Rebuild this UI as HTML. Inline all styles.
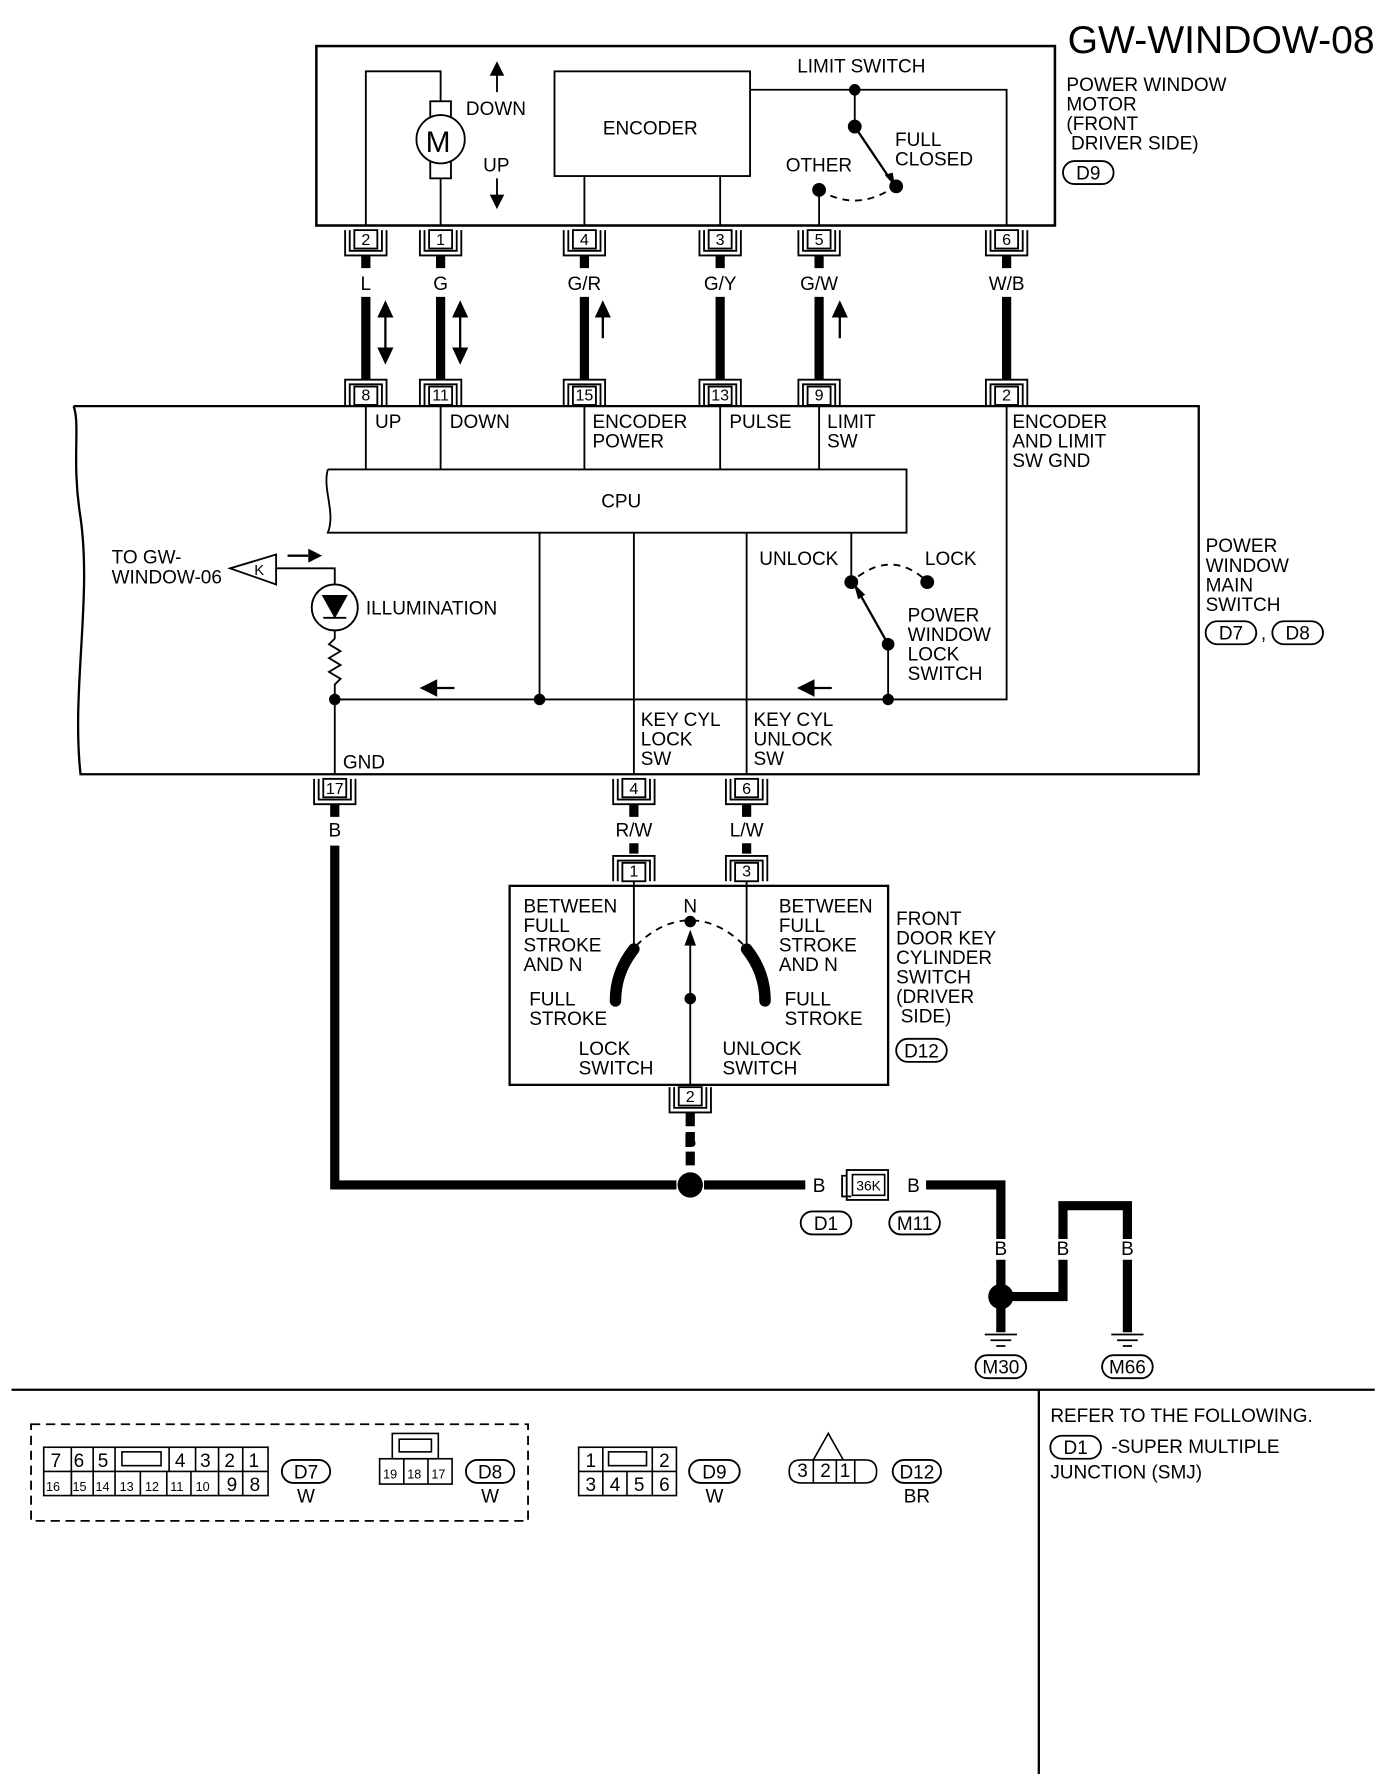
<!DOCTYPE html>
<html><head><meta charset="utf-8"><style>
html,body{margin:0;padding:0;background:#fff}
svg{display:block}
text{font-family:"Liberation Sans",sans-serif;font-size:16.5px;fill:#000}
.p{font-size:14px}
</style></head><body>
<svg width="1392" height="1774" viewBox="0 0 1210 1542" xmlns="http://www.w3.org/2000/svg">
<defs>
<g id="pinT"><path d="M-18,0 V22 H18 V0 M-14,0 V18 H14 V0" fill="none" stroke="#000" stroke-width="1.6"/><rect x="-10" y="0" width="20" height="16" fill="#fff" stroke="#000" stroke-width="1.6"/></g>
<g id="pinB"><path d="M-18,22 V0 H18 V22 M-14,22 V4 H14 V22" fill="none" stroke="#000" stroke-width="1.6"/><rect x="-10" y="6" width="20" height="16" fill="#fff" stroke="#000" stroke-width="1.6"/></g>
</defs>
<text x="928" y="46" style="font-size:34px">GW-WINDOW-08</text>

<!-- motor box -->
<rect x="275" y="40" width="642" height="156" fill="none" stroke="#000" stroke-width="2.2"/>
<g stroke="#000" fill="none" stroke-width="1.6">
<path d="M318,196 V62 H383 V88"/>
<path d="M383,155 V196"/>
<rect x="374" y="88" width="18" height="67" fill="#fff"/>
<circle cx="383" cy="121" r="21" fill="#fff"/>
<rect x="482" y="62" width="170" height="91"/>
<path d="M508,153 V196 M626,153 V196"/>
<path d="M652,78 H875 V196"/>
<path d="M743,78 V110"/>
<path d="M712,196 V165"/>
<path d="M712,165 Q745,185 778,162" stroke-dasharray="6,5"/>
</g>
<line x1="743" y1="110" x2="774" y2="156" stroke="#000" stroke-width="2"/>
<path d="M778,162 L769,152 L776,150 Z"/>
<circle cx="743" cy="78" r="5"/><circle cx="743" cy="110" r="6"/><circle cx="779" cy="162" r="6"/><circle cx="712" cy="165" r="6"/>
<text x="370" y="132" style="font-size:26px">M</text>
<path d="M432,55 V80 M432,55 l-5,10 h10 z M432,155 V180 M432,180 l-5,-10 h10 z" stroke="#000" stroke-width="1.6"/>
<text x="405" y="100">DOWN</text><text x="420" y="149">UP</text>
<text x="524" y="117">ENCODER</text>
<text x="693" y="63">LIMIT SWITCH</text>
<text x="778" y="127">FULL</text><text x="778" y="144">CLOSED</text>
<text x="683" y="149">OTHER</text>
<text x="927" y="79">POWER WINDOW</text><text x="927" y="96">MOTOR</text><text x="927" y="113">(FRONT</text><text x="931" y="130">DRIVER SIDE)</text>
<rect x="924" y="140" width="44" height="20" rx="10" fill="none" stroke="#000" stroke-width="1.6"/><text x="946" y="156" text-anchor="middle">D9</text>

<!-- top pins -->
<use href="#pinT" x="318" y="200"/><text class="p" x="318" y="213" text-anchor="middle">2</text>
<use href="#pinT" x="383" y="200"/><text class="p" x="383" y="213" text-anchor="middle">1</text>
<use href="#pinT" x="508" y="200"/><text class="p" x="508" y="213" text-anchor="middle">4</text>
<use href="#pinT" x="626" y="200"/><text class="p" x="626" y="213" text-anchor="middle">3</text>
<use href="#pinT" x="712" y="200"/><text class="p" x="712" y="213" text-anchor="middle">5</text>
<use href="#pinT" x="875" y="200"/><text class="p" x="875" y="213" text-anchor="middle">6</text>
<!-- wires -->
<g stroke="#000" stroke-width="8">
<path d="M318,222 V233 M318,258 V330 M383,222 V233 M383,258 V330 M508,222 V233 M508,258 V330 M626,222 V233 M626,258 V330 M712,222 V233 M712,258 V330 M875,222 V233 M875,258 V330"/>
</g>
<text x="318" y="252" text-anchor="middle">L</text><text x="383" y="252" text-anchor="middle">G</text><text x="508" y="252" text-anchor="middle">G/R</text><text x="626" y="252" text-anchor="middle">G/Y</text><text x="712" y="252" text-anchor="middle">G/W</text><text x="875" y="252" text-anchor="middle">W/B</text>
<g stroke="#000" stroke-width="2">
<path d="M335,270 V308 M400,270 V308 M524,270 V294 M730,270 V294"/>
</g>
<path d="M335,261 l-7,15 h14 z M335,317 l-7,-15 h14 z M400,261 l-7,15 h14 z M400,317 l-7,-15 h14 z M524,261 l-7,15 h14 z M730,261 l-7,15 h14 z"/>
<!-- bottom pins -->
<use href="#pinB" x="318" y="330"/><text class="p" x="318" y="348" text-anchor="middle">8</text>
<use href="#pinB" x="383" y="330"/><text class="p" x="383" y="348" text-anchor="middle">11</text>
<use href="#pinB" x="508" y="330"/><text class="p" x="508" y="348" text-anchor="middle">15</text>
<use href="#pinB" x="626" y="330"/><text class="p" x="626" y="348" text-anchor="middle">13</text>
<use href="#pinB" x="712" y="330"/><text class="p" x="712" y="348" text-anchor="middle">9</text>
<use href="#pinB" x="875" y="330"/><text class="p" x="875" y="348" text-anchor="middle">2</text>

<!-- main switch box -->
<path d="M64,353 H1042 V673 H70 C62,600 80,520 70,450 C62,400 70,370 64,353" fill="none" stroke="#000" stroke-width="2"/>
<g stroke="#000" fill="none" stroke-width="1.6">
<path d="M318,353 V408 M383,353 V408 M508,353 V408 M626,353 V408 M712,353 V408"/>
<path d="M285,408 H788 V463 H285 C292,445 280,425 285,408" fill="#fff"/>
<path d="M875,353 V608 H291"/>
<path d="M469,463 V608 M551,463 V673 M649,463 V673"/>
<path d="M740,463 V506"/>
<path d="M772,560 V608"/>
<path d="M746,501 Q775,480 802,502" stroke-dasharray="6,5"/>
<path d="M240,494 H291 V508 M291,548 V555 L286,560 L296,566 L286,572 L296,578 L286,584 L296,590 L291,595 V673"/>
<circle cx="291" cy="528" r="20"/>
</g>
<line x1="772" y1="560" x2="745" y2="512" stroke="#000" stroke-width="2"/>
<path d="M742,507 L746,521 L752,517 Z"/>
<path d="M240,482 L200,494 L240,508 Z" fill="#fff" stroke="#000" stroke-width="1.6"/>
<text x="221" y="500" style="font-size:13px">K</text>
<path d="M250,483 H268 M367,598 h12 v-6 l-12,6 l12,6 v-6 h16 M695,598 h12 v-6 l-12,6 l12,6 v-6 h16" stroke="#000" stroke-width="2"/>
<path d="M280,483 l-12,-6 v12 z"/>
<path d="M281,518 H301 L291,536 Z M281,537 H301" stroke="#000" stroke-width="1.6"/>
<circle cx="740" cy="506" r="6"/><circle cx="806" cy="506" r="6"/><circle cx="772" cy="560" r="5.5"/>
<circle cx="291" cy="608" r="5"/><circle cx="469" cy="608" r="5"/><circle cx="772" cy="608" r="5"/>
<text x="540" y="441" text-anchor="middle">CPU</text>
<text x="326" y="372">UP</text><text x="391" y="372">DOWN</text>
<text x="515" y="372">ENCODER</text><text x="515" y="389">POWER</text>
<text x="634" y="372">PULSE</text>
<text x="719" y="372">LIMIT</text><text x="719" y="389">SW</text>
<text x="880" y="372">ENCODER</text><text x="880" y="389">AND LIMIT</text><text x="880" y="406">SW GND</text>
<text x="660" y="491">UNLOCK</text><text x="804" y="491">LOCK</text>
<text x="789" y="540">POWER</text><text x="789" y="557">WINDOW</text><text x="789" y="574">LOCK</text><text x="789" y="591">SWITCH</text>
<text x="97" y="490">TO GW-</text><text x="97" y="507">WINDOW-06</text>
<text x="318" y="534">ILLUMINATION</text>
<text x="557" y="631">KEY CYL</text><text x="557" y="648">LOCK</text><text x="557" y="665">SW</text>
<text x="655" y="631">KEY CYL</text><text x="655" y="648">UNLOCK</text><text x="655" y="665">SW</text>
<text x="298" y="668">GND</text>
<text x="1048" y="480">POWER</text><text x="1048" y="497">WINDOW</text><text x="1048" y="514">MAIN</text><text x="1048" y="531">SWITCH</text>
<rect x="1048" y="540" width="44" height="20" rx="10" fill="none" stroke="#000" stroke-width="1.6"/><text x="1070" y="556" text-anchor="middle">D7</text>
<text x="1096" y="556">,</text>
<rect x="1106" y="540" width="44" height="20" rx="10" fill="none" stroke="#000" stroke-width="1.6"/><text x="1128" y="556" text-anchor="middle">D8</text>

<!-- pins under main switch -->
<use href="#pinT" x="291" y="677"/><text class="p" x="291" y="690" text-anchor="middle">17</text>
<use href="#pinT" x="551" y="677"/><text class="p" x="551" y="690" text-anchor="middle">4</text>
<use href="#pinT" x="649" y="677"/><text class="p" x="649" y="690" text-anchor="middle">6</text>
<text x="291" y="727" text-anchor="middle">B</text><text x="551" y="727" text-anchor="middle">R/W</text><text x="649" y="727" text-anchor="middle">L/W</text>
<g stroke="#000" stroke-width="8" fill="none">
<path d="M291,699 V710 M291,735 V1030 H588 M612,1030 H700 M805,1030 H870 V1077 M870,1095 V1120 M870,1135 V1158 M878,1127 H924 V1095 M924,1077 V1048 H980 V1077 M980,1095 V1158 M551,699 V710 M551,733 V742 M649,699 V710 M649,733 V742"/>
<path d="M600,967 V1018" stroke-dasharray="12,5"/>
</g>
<circle cx="600" cy="1030" r="11"/><circle cx="870" cy="1127" r="11"/>
<text x="712" y="1036" text-anchor="middle">B</text><text x="794" y="1036" text-anchor="middle">B</text>
<rect x="736" y="1017" width="36" height="26" fill="#fff" stroke="#000" stroke-width="1.6"/>
<path d="M736,1022 H732 V1040 H740" fill="none" stroke="#000" stroke-width="1.6"/>
<rect x="741" y="1021" width="28" height="18" fill="#fff" stroke="#000" stroke-width="1.4"/>
<text x="755" y="1035" text-anchor="middle" style="font-size:12px">36K</text>
<rect x="696" y="1053" width="44" height="20" rx="10" fill="none" stroke="#000" stroke-width="1.6"/><text x="718" y="1069" text-anchor="middle">D1</text>
<rect x="773" y="1053" width="44" height="20" rx="10" fill="none" stroke="#000" stroke-width="1.6"/><text x="795" y="1069" text-anchor="middle">M11</text>
<text x="870" y="1091" text-anchor="middle">B</text><text x="924" y="1091" text-anchor="middle">B</text><text x="980" y="1091" text-anchor="middle">B</text>
<g stroke="#000" stroke-width="1.6">
<path d="M856,1160 H884 M861,1165 H879 M866,1170 H874 M966,1160 H994 M971,1165 H989 M976,1170 H984"/>
</g>
<rect x="848" y="1178" width="44" height="20" rx="10" fill="none" stroke="#000" stroke-width="1.6"/><text x="870" y="1194" text-anchor="middle">M30</text>
<rect x="958" y="1178" width="44" height="20" rx="10" fill="none" stroke="#000" stroke-width="1.6"/><text x="980" y="1194" text-anchor="middle">M66</text>

<!-- key switch -->
<use href="#pinB" x="551" y="744"/><text class="p" x="551" y="762" text-anchor="middle">1</text>
<use href="#pinB" x="649" y="744"/><text class="p" x="649" y="762" text-anchor="middle">3</text>
<rect x="443" y="770" width="329" height="173" fill="none" stroke="#000" stroke-width="2"/>
<g stroke="#000" fill="none" stroke-width="1.6">
<path d="M551,766 V822 M649,766 V822 M600,868 V943 M600,868 V812"/>
<path d="M553,822 Q575,800 600,800 Q625,800 647,822" stroke-dasharray="6,5"/>
</g>
<path d="M551,825 Q535,845 535,870 M649,825 Q665,845 665,870" stroke="#000" stroke-width="10" fill="none" stroke-linecap="round"/>
<path d="M600,808 l-5,14 h10 z"/>
<circle cx="600" cy="801" r="5"/><circle cx="600" cy="868" r="5"/>
<text x="600" y="793" text-anchor="middle">N</text>
<text x="455" y="793">BETWEEN</text><text x="455" y="810">FULL</text><text x="455" y="827">STROKE</text><text x="455" y="844">AND N</text>
<text x="460" y="874">FULL</text><text x="460" y="891">STROKE</text>
<text x="503" y="917">LOCK</text><text x="503" y="934">SWITCH</text>
<text x="677" y="793">BETWEEN</text><text x="677" y="810">FULL</text><text x="677" y="827">STROKE</text><text x="677" y="844">AND N</text>
<text x="682" y="874">FULL</text><text x="682" y="891">STROKE</text>
<text x="628" y="917">UNLOCK</text><text x="628" y="934">SWITCH</text>
<text x="779" y="804">FRONT</text><text x="779" y="821">DOOR KEY</text><text x="779" y="838">CYLINDER</text><text x="779" y="855">SWITCH</text><text x="779" y="872">(DRIVER</text><text x="783" y="889">SIDE)</text>
<rect x="779" y="903" width="44" height="20" rx="10" fill="none" stroke="#000" stroke-width="1.6"/><text x="801" y="919" text-anchor="middle">D12</text>
<use href="#pinT" x="600" y="945"/><text class="p" x="600" y="958" text-anchor="middle">2</text>
<text x="600" y="997" text-anchor="middle">B</text>

<!-- bottom section -->
<path d="M10,1208 H1195 M903,1208 V1555" stroke="#000" stroke-width="2"/>
<rect x="27" y="1238" width="432" height="84" fill="none" stroke="#000" stroke-width="1.6" stroke-dasharray="8,5"/>
<g stroke="#000" fill="none" stroke-width="1.4">
<rect x="38" y="1258" width="195" height="42"/><path d="M38,1279 H233"/>
<path d="M62,1258 V1300 M81,1258 V1279 M100,1258 V1279 M147,1258 V1279 M170,1258 V1279 M190,1258 V1279 M211,1258 V1279"/>
<path d="M62,1279 V1300 M81,1279 V1300 M100,1279 V1300 M122,1279 V1300 M145,1279 V1300 M166,1279 V1300 M190,1279 V1300 M211,1279 V1300"/>
<rect x="106" y="1262" width="34" height="12"/>
<rect x="330" y="1268" width="63" height="22"/><path d="M351,1268 V1290 M372,1268 V1290"/>
<rect x="341" y="1246" width="40" height="22"/><rect x="347" y="1251" width="28" height="11"/>
<rect x="503" y="1258" width="85" height="42"/><path d="M503,1279 H588 M524,1258 V1300 M567,1258 V1300 M545,1279 V1300"/>
<rect x="529" y="1262" width="33" height="12"/>
<path d="M686,1279 q0,-10 10,-10 h56 q10,0 10,10 q0,10 -10,10 h-56 q-10,0 -10,-10 M707,1269 V1289 M727,1269 V1289 M743,1269 V1289 M707,1269 L720,1246 L733,1269"/>
</g>
<g style="font-size:13px">
<text x="44" y="1275">7</text><text x="64" y="1275">6</text><text x="85" y="1275">5</text><text x="152" y="1275">4</text><text x="174" y="1275">3</text><text x="195" y="1275">2</text><text x="216" y="1275">1</text>
<text x="40" y="1296" style="font-size:11px">16</text><text x="63" y="1296" style="font-size:11px">15</text><text x="83" y="1296" style="font-size:11px">14</text><text x="104" y="1296" style="font-size:11px">13</text><text x="126" y="1296" style="font-size:11px">12</text><text x="148" y="1296" style="font-size:11px">11</text><text x="170" y="1296" style="font-size:11px">10</text><text x="197" y="1296">9</text><text x="217" y="1296">8</text>
<text x="333" y="1285" style="font-size:11px">19</text><text x="354" y="1285" style="font-size:11px">18</text><text x="375" y="1285" style="font-size:11px">17</text>
<text x="509" y="1275">1</text><text x="573" y="1275">2</text><text x="509" y="1296">3</text><text x="530" y="1296">4</text><text x="551" y="1296">5</text><text x="573" y="1296">6</text>
<text x="693" y="1284">3</text><text x="713" y="1284">2</text><text x="730" y="1284">1</text>
</g>
<g fill="none" stroke="#000" stroke-width="1.6">
<rect x="245" y="1269" width="42" height="20" rx="10"/><rect x="405" y="1269" width="42" height="20" rx="10"/><rect x="599" y="1269" width="44" height="20" rx="10"/><rect x="776" y="1269" width="42" height="20" rx="10"/><rect x="913" y="1248" width="44" height="20" rx="10"/>
</g>
<text x="266" y="1285" text-anchor="middle">D7</text><text x="266" y="1306" text-anchor="middle">W</text>
<text x="426" y="1285" text-anchor="middle">D8</text><text x="426" y="1306" text-anchor="middle">W</text>
<text x="621" y="1285" text-anchor="middle">D9</text><text x="621" y="1306" text-anchor="middle">W</text>
<text x="797" y="1285" text-anchor="middle">D12</text><text x="797" y="1306" text-anchor="middle">BR</text>
<text x="913" y="1236">REFER TO THE FOLLOWING.</text>
<text x="935" y="1264" text-anchor="middle">D1</text><text x="966" y="1263">-SUPER MULTIPLE</text>
<text x="913" y="1285">JUNCTION (SMJ)</text>
</svg>
</body></html>
